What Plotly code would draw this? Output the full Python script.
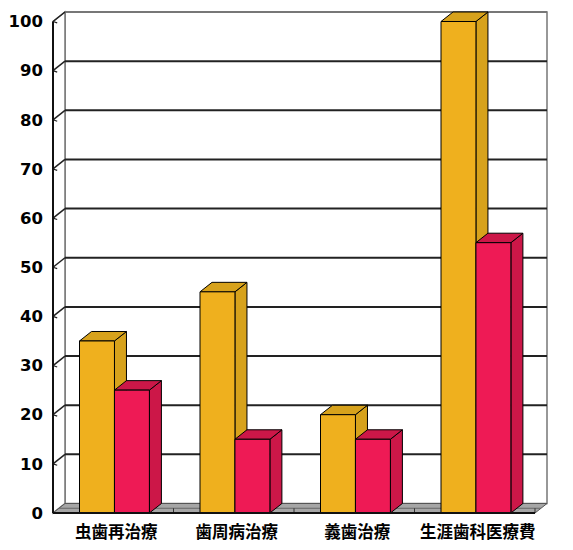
import plotly.graph_objects as go

categories = ["虫歯再治療", "歯周病治療", "義歯治療", "生涯歯科医療費"]
series_a = [35, 45, 20, 100]   # orange
series_b = [25, 15, 15, 55]    # red
y_ticks = [0, 10, 20, 30, 40, 50, 60, 70, 80, 90, 100]

# pseudo-3D depth (data units)
DX = 0.0996
DY = 1.93
BW = 0.29
YMAX = 100

ORANGE_F, ORANGE_S = "#EFB01E", "#D7A21C"
RED_F, RED_S = "#EE1A55", "#CC1748"

shapes = []
def path(pts):
    return "M " + " L ".join(f"{x},{y}" for x, y in pts) + " Z"

x0, x1 = -0.5, len(categories) - 0.5
# back wall
shapes.append(dict(type="path", path=path([(x0+DX, DY), (x1+DX, DY), (x1+DX, YMAX+DY), (x0+DX, YMAX+DY)]),
                   fillcolor="white", line=dict(color="#777", width=1.5), layer="below"))
# left wall
shapes.append(dict(type="path", path=path([(x0, 0), (x0+DX, DY), (x0+DX, YMAX+DY), (x0, YMAX)]),
                   fillcolor="white", line=dict(color="#777", width=1.5), layer="below"))
# gridlines on back wall + left wall diagonals
for v in y_ticks[1:]:
    col = "#777" if v == YMAX else "#222"
    shapes.append(dict(type="line", x0=x0+DX, x1=x1+DX, y0=v+DY, y1=v+DY,
                       line=dict(color=col, width=2), layer="below"))
    shapes.append(dict(type="line", x0=x0, x1=x0+DX, y0=v, y1=v+DY,
                       line=dict(color="#222", width=1.5), layer="below"))
    shapes.append(dict(type="line", x0=x0, x1=x0+DX*0.35, y0=v, y1=v-DY*0.15,
                       line=dict(color="#222", width=1.2), layer="below"))
# floor
shapes.append(dict(type="path", path=path([(x0, 0), (x1, 0), (x1+DX, DY), (x0+DX, DY)]),
                   fillcolor="#a6a6a6", line=dict(color="#555", width=1), layer="below"))
shapes.append(dict(type="line", x0=x0+DX/2, x1=x1+DX/2, y0=DY/2, y1=DY/2,
                   line=dict(color="#666", width=1), layer="below"))
for i in range(len(categories)):
    b = i + 0.5
    shapes.append(dict(type="line", x0=b, x1=b, y0=0, y1=DY/2,
                       line=dict(color="#333", width=1), layer="below"))

# bar side / top faces
def faces(xl, xr, v, side_col):
    shapes.append(dict(type="path", path=path([(xr, 0), (xr+DX, DY), (xr+DX, v+DY), (xr, v)]),
                       fillcolor=side_col, line=dict(color="black", width=1), layer="below"))
    shapes.append(dict(type="path", path=path([(xl, v), (xr, v), (xr+DX, v+DY), (xl+DX, v+DY)]),
                       fillcolor=side_col, line=dict(color="black", width=1), layer="below"))

SHIFT = 0.01
for i, (a, b) in enumerate(zip(series_a, series_b)):
    faces(i + SHIFT - BW, i + SHIFT, a, ORANGE_S)
    faces(i + SHIFT, i + SHIFT + BW, b, RED_S)

# front axis lines
shapes.append(dict(type="line", x0=x0, x1=x0, y0=0, y1=YMAX, line=dict(color="#111", width=2), layer="above"))
shapes.append(dict(type="line", x0=x0, x1=x1, y0=0, y1=0, line=dict(color="#111", width=2), layer="above"))

xs = list(range(len(categories)))
fig = go.Figure()
fig.add_trace(go.Bar(x=xs, y=series_a, width=BW, offset=SHIFT - BW,
                     marker=dict(color=ORANGE_F, line=dict(color="black", width=1)), hoverinfo="skip"))
fig.add_trace(go.Bar(x=xs, y=series_b, width=BW, offset=SHIFT,
                     marker=dict(color=RED_F, line=dict(color="black", width=1)), hoverinfo="skip"))

K = 4.915
fig.update_layout(
    width=573, height=550,
    margin=dict(l=48, r=23, t=7, b=32),
    paper_bgcolor="white", plot_bgcolor="white",
    showlegend=False, barmode="overlay",
    shapes=shapes,
    xaxis=dict(range=[-0.5415, 3.6245], tickvals=[i + 0.025 for i in xs], ticktext=categories,
               showgrid=False, zeroline=False, showline=False, ticks="", automargin=False,
               ticklabelstandoff=2,
               tickfont=dict(family="Noto Sans CJK JP", size=16.5, color="black", weight="bold")),
    yaxis=dict(range=[-5/K, 506/K], tickvals=y_ticks, showgrid=False, zeroline=False, showline=False,
               ticks="", ticklabelstandoff=4, automargin=False,
               tickfont=dict(family="DejaVu Sans", size=16.5, color="black", weight="bold")),
)
fig.write_html("out.html", config={"displayModeBar": False},
               post_script="document.body.style.margin='0px';document.body.style.overflow='hidden';")
